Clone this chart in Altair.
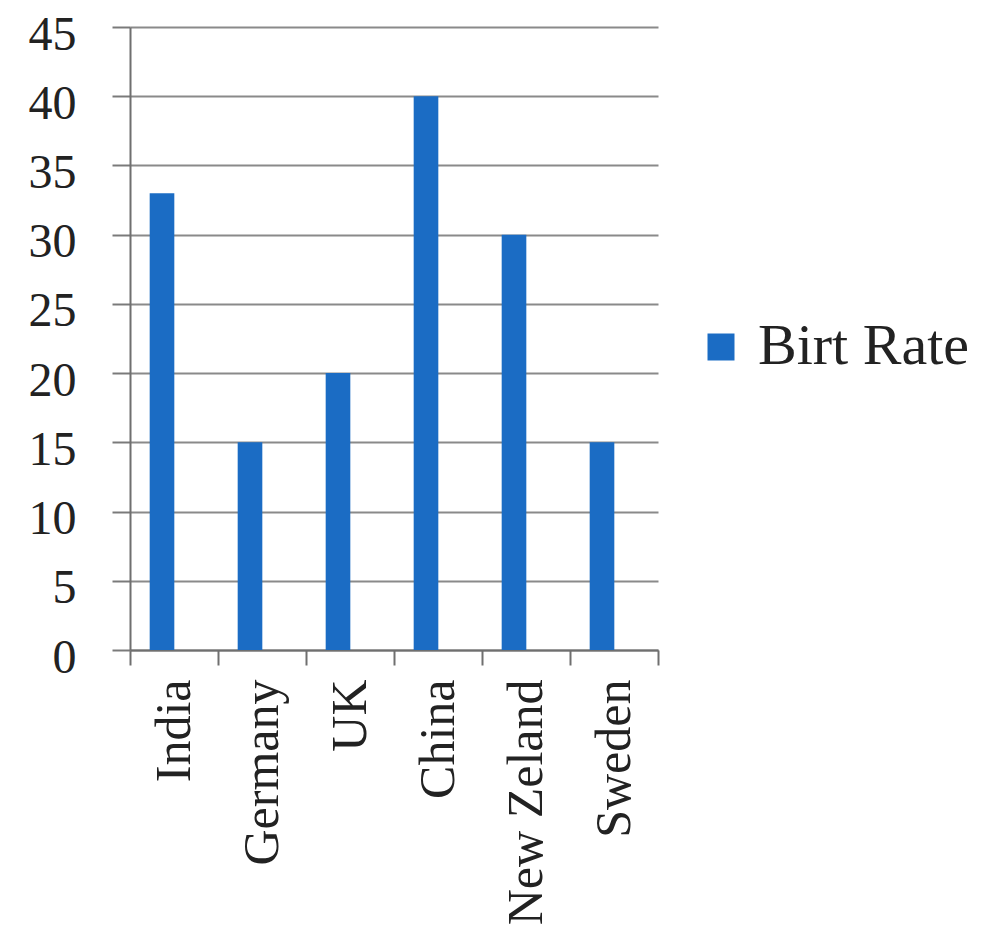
import altair as alt
import pandas as pd

countries = ["India", "Germany", "UK", "China", "New Zeland", "Sweden"]
birth_rate = [33, 15, 20, 40, 30, 15]
series = ["Birt Rate"] * len(countries)
y_ticks = [0, 5, 10, 15, 20, 25, 30, 35, 40, 45]

df = pd.DataFrame({"country": countries, "value": birth_rate, "series": series})

FONT = "Liberation Serif"

chart = (
    alt.Chart(df)
    .mark_bar(width=alt.RelativeBandSize(0.28), xOffset=-12)
    .encode(
        x=alt.X(
            "country:N",
            sort=countries,
            title=None,
            scale=alt.Scale(paddingInner=0, paddingOuter=0),
            axis=alt.Axis(
                labelAngle=-90,
                labelAlign="right",
                labelBaseline="middle",
                labelFont=FONT,
                labelFontSize=50,
                labelColor="#222222",
                labelPadding=14,
                labelLimit=0,
                tickBand="extent",
                tickSize=15,
                tickWidth=2,
                tickColor="#6f6f6f",
                domainColor="#6f6f6f",
                domainWidth=2,
                grid=False,
            ),
        ),
        y=alt.Y(
            "value:Q",
            title=None,
            scale=alt.Scale(domain=[0, 45], nice=False),
            axis=alt.Axis(
                values=y_ticks,
                labelFont=FONT,
                labelFontSize=48,
                labelColor="#222222",
                labelPadding=36,
                labelOffset=8,
                labelLimit=0,
                tickSize=18,
                tickWidth=2,
                tickColor="#7a7a7a",
                domainColor="#6f6f6f",
                domainWidth=2,
                grid=True,
                gridColor="#8a8a8a",
                gridWidth=2,
            ),
        ),
        color=alt.Color(
            "series:N",
            scale=alt.Scale(range=["#1b6cc4"]),
            legend=alt.Legend(
                title=None,
                orient="none",
                legendX=562,
                legendY=291,
                symbolType="square",
                symbolSize=729,
                symbolStrokeWidth=0,
                labelFont=FONT,
                labelFontSize=58,
                labelColor="#222222",
                labelOffset=8,
                labelLimit=0,
            ),
        ),
    )
    .properties(
        width=528,
        height=623,
        background="white",
        autosize=alt.AutoSizeParams(type="none"),
        padding={"left": 122, "top": 19, "right": 316, "bottom": 286},
    )
    .configure_view(strokeWidth=0, stroke="transparent")
)

chart.save("out.html", embed_options={"renderer": "svg", "actions": False})
